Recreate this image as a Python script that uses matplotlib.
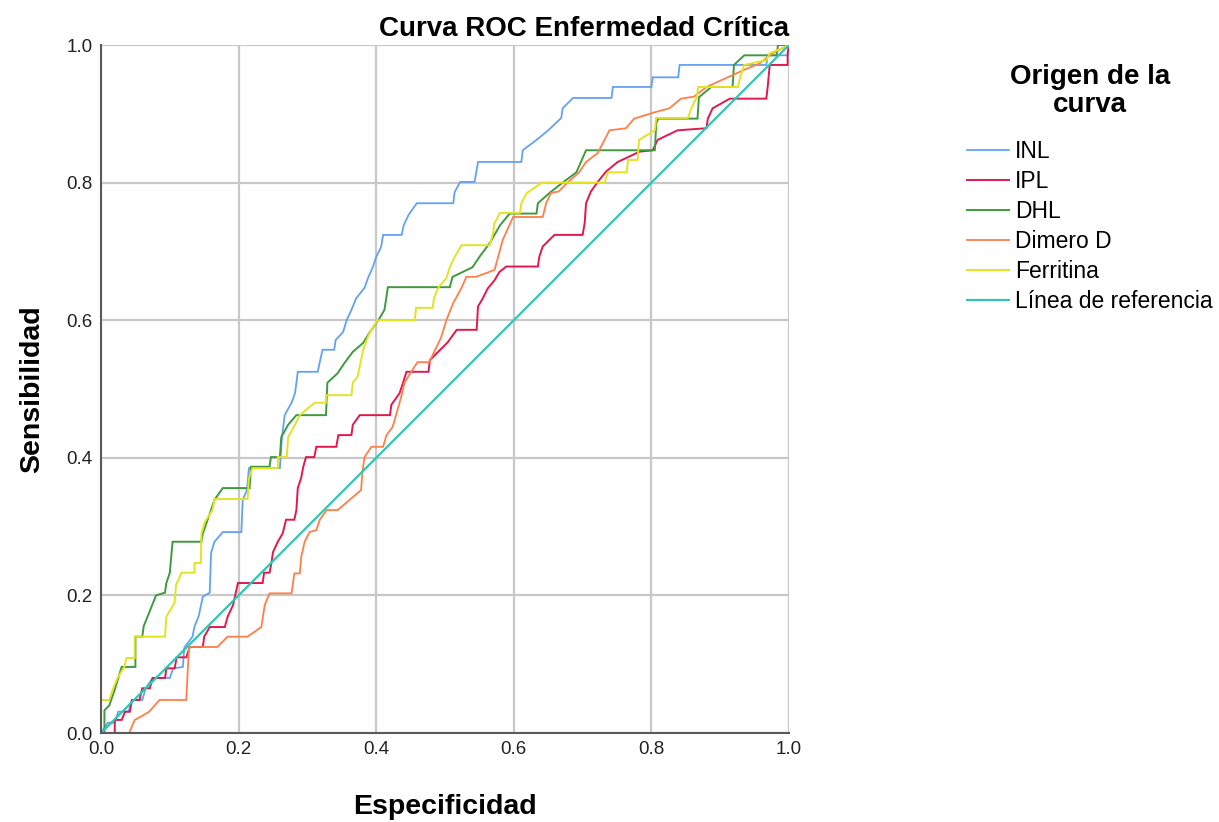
import matplotlib
matplotlib.use("Agg")
import matplotlib.pyplot as plt

plt.rcParams['font.family'] = ['Liberation Sans', 'DejaVu Sans']

# curve vertices (1 - especificidad, sensibilidad)
inl_pts = [(0, 0), (0.01, 0.015), (0.02, 0.015), (0.025, 0.031), (0.04, 0.031), (0.045, 0.048),
           (0.06, 0.048), (0.065, 0.065), (0.075, 0.08), (0.1, 0.08), (0.105, 0.094), (0.119, 0.096),
           (0.121, 0.124), (0.133, 0.14), (0.136, 0.155), (0.142, 0.17), (0.148, 0.198), (0.158, 0.204),
           (0.16, 0.262), (0.165, 0.278), (0.177, 0.292), (0.204, 0.292), (0.206, 0.339), (0.212, 0.353),
           (0.215, 0.385), (0.26, 0.385), (0.263, 0.43), (0.267, 0.462), (0.277, 0.48), (0.282, 0.494),
           (0.284, 0.509), (0.286, 0.525), (0.315, 0.525), (0.318, 0.539), (0.322, 0.557), (0.339, 0.557),
           (0.341, 0.571), (0.352, 0.583), (0.357, 0.6), (0.364, 0.615), (0.371, 0.632), (0.383, 0.647),
           (0.388, 0.661), (0.395, 0.677), (0.4, 0.692), (0.407, 0.706), (0.41, 0.724), (0.437, 0.724),
           (0.44, 0.738), (0.447, 0.753), (0.459, 0.77), (0.512, 0.77), (0.514, 0.786), (0.522, 0.801),
           (0.543, 0.801), (0.548, 0.83), (0.611, 0.83), (0.613, 0.847), (0.633, 0.862), (0.65, 0.876),
           (0.669, 0.894), (0.671, 0.908), (0.686, 0.923), (0.742, 0.923), (0.744, 0.939), (0.8, 0.939),
           (0.802, 0.953), (0.839, 0.953), (0.841, 0.971), (0.967, 0.971), (0.969, 0.985), (1.0, 0.985),
           (1.0, 1.0)]

ipl_pts = [(0, 0), (0.02, 0.0), (0.02, 0.019), (0.03, 0.019), (0.035, 0.031), (0.042, 0.031),
           (0.045, 0.048), (0.056, 0.048), (0.06, 0.065), (0.071, 0.065), (0.075, 0.08), (0.093, 0.08),
           (0.095, 0.094), (0.107, 0.094), (0.11, 0.11), (0.124, 0.11), (0.129, 0.125), (0.148, 0.125),
           (0.15, 0.14), (0.158, 0.154), (0.18, 0.154), (0.184, 0.169), (0.192, 0.186), (0.199, 0.218),
           (0.235, 0.218), (0.237, 0.233), (0.245, 0.233), (0.248, 0.249), (0.25, 0.263), (0.257, 0.278),
           (0.264, 0.29), (0.269, 0.31), (0.281, 0.31), (0.284, 0.324), (0.286, 0.356), (0.291, 0.371),
           (0.294, 0.387), (0.298, 0.401), (0.31, 0.401), (0.313, 0.416), (0.342, 0.416), (0.345, 0.433),
           (0.364, 0.433), (0.366, 0.448), (0.376, 0.462), (0.42, 0.462), (0.422, 0.477), (0.434, 0.494),
           (0.439, 0.509), (0.444, 0.525), (0.476, 0.525), (0.478, 0.542), (0.49, 0.554), (0.504, 0.568),
           (0.517, 0.586), (0.546, 0.586), (0.548, 0.62), (0.555, 0.632), (0.562, 0.646), (0.572, 0.658),
           (0.579, 0.67), (0.589, 0.678), (0.635, 0.678), (0.637, 0.692), (0.642, 0.707), (0.659, 0.724),
           (0.7, 0.724), (0.703, 0.741), (0.705, 0.77), (0.712, 0.787), (0.722, 0.801), (0.734, 0.816),
           (0.751, 0.83), (0.783, 0.845), (0.802, 0.847), (0.809, 0.862), (0.838, 0.876), (0.88, 0.879),
           (0.882, 0.893), (0.889, 0.908), (0.914, 0.922), (0.967, 0.922), (0.969, 0.939), (0.972, 0.971),
           (0.998, 0.971), (0.998, 0.988), (1.0, 1.0)]

dhl_pts = [(0, 0), (0.005, 0.0), (0.005, 0.033), (0.012, 0.04), (0.02, 0.063), (0.03, 0.096),
           (0.05, 0.096), (0.05, 0.14), (0.06, 0.14), (0.062, 0.155), (0.068, 0.17), (0.08, 0.2),
           (0.093, 0.204), (0.095, 0.218), (0.1, 0.233), (0.104, 0.278), (0.146, 0.278), (0.148, 0.29),
           (0.155, 0.31), (0.165, 0.339), (0.177, 0.356), (0.216, 0.356), (0.218, 0.387), (0.245, 0.387),
           (0.247, 0.401), (0.26, 0.401), (0.262, 0.43), (0.272, 0.448), (0.284, 0.462), (0.327, 0.462),
           (0.329, 0.509), (0.344, 0.523), (0.354, 0.538), (0.366, 0.554), (0.381, 0.567), (0.391, 0.583),
           (0.405, 0.603), (0.412, 0.615), (0.417, 0.648), (0.507, 0.648), (0.511, 0.663), (0.54, 0.677),
           (0.55, 0.692), (0.565, 0.712), (0.58, 0.738), (0.594, 0.755), (0.633, 0.755), (0.635, 0.77),
           (0.652, 0.785), (0.671, 0.8), (0.691, 0.815), (0.705, 0.847), (0.805, 0.847), (0.807, 0.886),
           (0.81, 0.893), (0.867, 0.893), (0.869, 0.924), (0.887, 0.939), (0.918, 0.939), (0.92, 0.971),
           (0.935, 0.985), (0.982, 0.985), (0.984, 1.0), (1.0, 1.0)]

dimero_pts = [(0, 0), (0.041, 0.0), (0.049, 0.019), (0.06, 0.025), (0.07, 0.031), (0.085, 0.048),
              (0.124, 0.048), (0.126, 0.09), (0.128, 0.125), (0.169, 0.125), (0.184, 0.14), (0.213, 0.14),
              (0.233, 0.154), (0.238, 0.186), (0.245, 0.203), (0.277, 0.203), (0.281, 0.232), (0.289, 0.232),
              (0.291, 0.256), (0.296, 0.278), (0.303, 0.292), (0.313, 0.295), (0.318, 0.31), (0.328, 0.324),
              (0.344, 0.324), (0.378, 0.353), (0.38, 0.379), (0.383, 0.401), (0.393, 0.416), (0.41, 0.416),
              (0.415, 0.433), (0.424, 0.445), (0.437, 0.491), (0.441, 0.509), (0.451, 0.525), (0.46, 0.539),
              (0.477, 0.539), (0.494, 0.574), (0.502, 0.6), (0.512, 0.625), (0.524, 0.647), (0.531, 0.663),
              (0.545, 0.663), (0.572, 0.673), (0.584, 0.717), (0.599, 0.75), (0.642, 0.75), (0.647, 0.77),
              (0.654, 0.785), (0.665, 0.787), (0.678, 0.8), (0.695, 0.815), (0.705, 0.83), (0.722, 0.843),
              (0.739, 0.876), (0.763, 0.879), (0.775, 0.893), (0.804, 0.902), (0.826, 0.908), (0.843, 0.922),
              (0.862, 0.925), (0.88, 0.939), (0.935, 0.964), (0.957, 0.973), (0.976, 0.988), (1.0, 1.0)]

ferritina_pts = [(0, 0), (0.0, 0.048), (0.012, 0.048), (0.017, 0.063), (0.024, 0.08), (0.034, 0.096),
                 (0.037, 0.109), (0.049, 0.109), (0.049, 0.14), (0.093, 0.14), (0.095, 0.169), (0.107, 0.189),
                 (0.109, 0.215), (0.117, 0.233), (0.136, 0.233), (0.136, 0.247), (0.145, 0.247), (0.146, 0.29),
                 (0.151, 0.307), (0.162, 0.324), (0.165, 0.34), (0.213, 0.34), (0.215, 0.37), (0.22, 0.385),
                 (0.257, 0.385), (0.257, 0.401), (0.27, 0.401), (0.272, 0.43), (0.282, 0.448), (0.289, 0.462),
                 (0.303, 0.474), (0.311, 0.48), (0.327, 0.48), (0.327, 0.491), (0.364, 0.491), (0.366, 0.509),
                 (0.373, 0.518), (0.381, 0.557), (0.388, 0.576), (0.393, 0.586), (0.402, 0.6), (0.456, 0.6),
                 (0.458, 0.618), (0.482, 0.618), (0.484, 0.632), (0.49, 0.647), (0.502, 0.661), (0.507, 0.677),
                 (0.514, 0.692), (0.524, 0.709), (0.565, 0.709), (0.57, 0.727), (0.572, 0.741), (0.58, 0.756),
                 (0.609, 0.756), (0.611, 0.77), (0.619, 0.785), (0.641, 0.8), (0.732, 0.8), (0.737, 0.815),
                 (0.764, 0.815), (0.766, 0.833), (0.78, 0.833), (0.782, 0.862), (0.805, 0.876), (0.807, 0.894),
                 (0.853, 0.894), (0.859, 0.91), (0.866, 0.924), (0.868, 0.939), (0.926, 0.939), (0.929, 0.953),
                 (0.935, 0.971), (0.967, 0.978), (0.972, 0.988), (0.991, 0.996), (1.0, 1.0)]

ref_pts = [(0, 0), (1, 1)]

curves = [("INL", inl_pts, "#63a2f2", 1.3),
          ("IPL", ipl_pts, "#e3184c", 1.4),
          ("DHL", dhl_pts, "#3f9a3f", 1.4),
          ("Dimero D", dimero_pts, "#ff7f4a", 1.3),
          ("Ferritina", ferritina_pts, "#e3e322", 1.4),
          ("Línea de referencia", ref_pts, "#33c4b3", 1.6)]

fig = plt.figure(figsize=(12.19, 8.22), dpi=100)
ax = fig.add_axes([101 / 1219, 89 / 822, 688 / 1219, 688 / 822])

for name, pts, col, lw in curves:
    xs = [p[0] for p in pts]
    ys = [p[1] for p in pts]
    ax.plot(xs, ys, color=col, lw=lw, label=name, solid_joinstyle='miter')

ax.set_xlim(0, 1)
ax.set_ylim(0, 1)
ticks = [0.0, 0.2, 0.4, 0.6, 0.8, 1.0]
ax.set_xticks(ticks)
ax.set_yticks(ticks)
ax.set_xticklabels([f"{t:.1f}" for t in ticks], fontsize=13.5)
ax.set_yticklabels([f"{t:.1f}" for t in ticks], fontsize=13.5)
ax.tick_params(length=0, pad=6, colors="#222222")
ax.grid(True, color="#c8c8c8", lw=1.6)
ax.set_axisbelow(True)
for s in ["top", "right"]:
    ax.spines[s].set_visible(False)
for s in ["left", "bottom"]:
    ax.spines[s].set_color("#5a5a5a")
    ax.spines[s].set_linewidth(1.5)

ax.set_title("Curva ROC Enfermedad Crítica", loc="right", fontsize=20, fontweight="bold", pad=6.5)
ax.set_xlabel("Especificidad", fontsize=20.5, fontweight="bold")
ax.set_ylabel("Sensibilidad", fontsize=20.5, fontweight="bold")
ax.xaxis.set_label_coords(0.5, -0.089)
ax.yaxis.set_label_coords(-0.081, 0.5)

leg = fig.legend(loc="upper center", bbox_to_anchor=(1090 / 1219, 1 - 43 / 822), frameon=False,
                 title="Origen de la\ncurva", fontsize=16.5, handlelength=1.8, handletextpad=0.28,
                 labelspacing=0.3, title_fontproperties={"size": 20, "weight": "bold"})
leg.get_title().set_multialignment("center")
leg.get_title().set_linespacing(1.12)
leg._legend_box.sep = 16

fig.savefig("out.png", dpi=100)
